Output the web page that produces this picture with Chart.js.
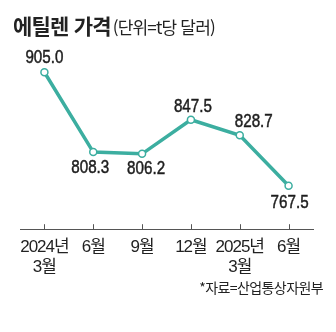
<!DOCTYPE html>
<html lang="ko">
<head>
<meta charset="utf-8">
<script src="https://cdn.jsdelivr.net/npm/chart.js@4"></script>
<style>
  html, body { margin: 0; padding: 0; background: #fff; }
  #wrap { position: relative; width: 336px; height: 332px; overflow: hidden; }
  #ethChart { position: absolute; left: 0; top: 0; }
  .title { position: absolute; left: 13px; top: 15px; white-space: nowrap; color: #222;
           font-family: 'Noto Sans CJK KR', sans-serif; line-height: 1; }
  .title b { font-size: 21px; font-weight: 700; letter-spacing: -0.8px; margin-right: 2px; }
  .title span { font-size: 17px; font-weight: 400; letter-spacing: -0.8px; }
  .source { position: absolute; right: 13px; top: 277px; white-space: nowrap; color: #222;
            font-family: 'Liberation Sans Narrow', 'Noto Sans CJK KR', sans-serif;
            font-size: 14px; letter-spacing: -0.6px; }
</style>
</head>
<body>
<div id="wrap">
  <canvas id="ethChart" width="336" height="332"></canvas>
  <div class="title"><b>에틸렌 가격</b><span>(단위=t당 달러)</span></div>
  <div class="source">*자료=산업통상자원부</div>
</div>
<script>
// 분기별 에틸렌 가격 (t당 달러)
const months = [['2024년', '3월'], '6월', '9월', '12월', ['2025년', '3월'], '6월'];
const prices = [905.0, 808.3, 806.2, 847.5, 828.7, 767.5];

// 값 라벨 위치: 점 기준 좌우/상하 이동량
const labelDx = [0, -3, 4, 2, 14, 1];
const labelDy = [-14, 16, 15, -13, -13, 17];

const teal = '#3caea0';
const numFont = "'Liberation Sans Narrow', 'Liberation Sans', sans-serif";

// 좁은 글꼴 느낌을 내기 위해 축 글자 간격을 줄임
const tightText = {
  id: 'tightText',
  beforeDraw(chart) { chart.ctx.letterSpacing = '-1px'; },
  afterDraw(chart) { chart.ctx.letterSpacing = '0px'; }
};

// 값 라벨 그리기 (가로로 살짝 눌러서)
const valueLabels = {
  id: 'valueLabels',
  afterDatasetsDraw(chart) {
    const ctx = chart.ctx;
    const meta = chart.getDatasetMeta(0);
    meta.data.forEach((pt, i) => {
      const txt = prices[i].toFixed(1);
      ctx.save();
      ctx.letterSpacing = '0px';
      ctx.font = '18.5px ' + numFont;
      ctx.fillStyle = '#1e1e1e';
      ctx.strokeStyle = '#1e1e1e';
      ctx.lineWidth = 0.5;
      ctx.textAlign = 'center';
      ctx.textBaseline = 'middle';
      ctx.translate(pt.x + labelDx[i], pt.y + labelDy[i]);
      ctx.scale(0.82, 1);
      ctx.fillText(txt, 0, 0);
      ctx.strokeText(txt, 0, 0);
      ctx.restore();
    });
  }
};

// x축 위쪽으로 짧은 눈금
const upTicks = {
  id: 'upTicks',
  afterDraw(chart) {
    const ctx = chart.ctx;
    const xs = chart.scales.x;
    const y0 = chart.chartArea.bottom;
    ctx.save();
    ctx.strokeStyle = '#555';
    ctx.lineWidth = 1;
    xs.ticks.forEach((t, i) => {
      const x = Math.round(xs.getPixelForTick(i)) + 0.5;
      ctx.beginPath();
      ctx.moveTo(x, y0);
      ctx.lineTo(x, y0 - 5);
      ctx.stroke();
    });
    ctx.restore();
  }
};

new Chart(document.getElementById('ethChart').getContext('2d'), {
  type: 'line',
  data: {
    labels: months,
    datasets: [{
      data: prices,
      borderColor: teal,
      borderWidth: 3.5,
      tension: 0,
      pointRadius: 3.5,
      pointBorderWidth: 1.5,
      pointBackgroundColor: '#fff',
      pointBorderColor: teal
    }]
  },
  options: {
    responsive: false,
    animation: false,
    layout: { padding: { left: 20, right: 23, top: 40, bottom: 46 } },
    plugins: {
      legend: { display: false },
      tooltip: { enabled: false }
    },
    scales: {
      x: {
        offset: true,
        grid: { display: false, drawTicks: false },
        border: { display: true, color: '#555', width: 1 },
        ticks: {
          color: '#222',
          padding: 8,
          maxRotation: 0,
          autoSkip: false,
          font: { family: numFont + ", 'Noto Sans CJK KR'", size: 17, lineHeight: 1.2 }
        }
      },
      y: {
        display: false,
        min: 715,
        max: 944
      }
    }
  },
  plugins: [tightText, valueLabels, upTicks]
});
</script>
</body>
</html>
